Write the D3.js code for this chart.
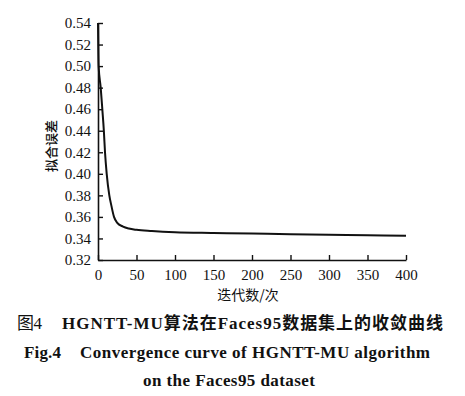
<!DOCTYPE html>
<html>
<head>
<meta charset="utf-8">
<script src="https://cdn.jsdelivr.net/npm/d3@7/dist/d3.min.js"></script>
<style>
  body { margin: 0; background: #fff; }
  text { fill: #111; }
</style>
</head>
<body>
<svg id="chart" width="465" height="396"></svg>
<script>
// iterations and fitting error
const iterations = [0, 0.8, 3.5, 5.6, 7.6, 9.1, 11.3, 14.7, 17.5, 20.8, 25, 32.5, 40, 50, 70, 100, 150, 200, 250, 300, 350, 400];
const errors = [0.54, 0.50, 0.48, 0.46, 0.44, 0.42, 0.40, 0.38, 0.37, 0.36, 0.3545, 0.351, 0.3492, 0.348, 0.3469, 0.3458, 0.3451, 0.3445, 0.344, 0.3435, 0.343, 0.3426];
const xTicks = [0, 50, 100, 150, 200, 250, 300, 350, 400];
const yTicks = [0.32, 0.34, 0.36, 0.38, 0.40, 0.42, 0.44, 0.46, 0.48, 0.50, 0.52, 0.54];

const serif = '"Liberation Serif", "Times New Roman", serif';
const cjk = '"Noto Sans CJK SC", sans-serif';
const mixed = '"Liberation Serif", "Noto Sans CJK SC", serif';

const svg = d3.select('#chart');
const x = d3.scaleLinear().domain([0, 400]).range([98, 406]);
const y = d3.scaleLinear().domain([0.32, 0.54]).range([260, 23]);

// axes, ticks pointing inward
const xAxis = svg.append('g')
  .attr('transform', `translate(0,${y(0.32)})`)
  .call(d3.axisBottom(x).tickValues(xTicks).tickSizeInner(-5).tickSizeOuter(0).tickPadding(9));
const yAxis = svg.append('g')
  .attr('transform', `translate(${x(0)},0)`)
  .call(d3.axisLeft(y).tickValues(yTicks).tickFormat(d3.format('.2f')).tickSizeInner(-5).tickSizeOuter(0).tickPadding(7));

[xAxis, yAxis].forEach((ax) => {
  ax.attr('font-family', null).attr('font-size', null);
  ax.select('.domain').attr('stroke', '#111').attr('stroke-width', 1.6);
  ax.selectAll('.tick line').attr('stroke', '#111').attr('stroke-width', 1.4);
  ax.selectAll('.tick text')
    .style('font-family', serif)
    .style('font-size', '15px')
    .style('fill', '#111');
});

const line = d3.line()
  .x((d, i) => x(iterations[i]))
  .y((d) => y(d))
  .curve(d3.curveMonotoneX);

svg.append('path')
  .datum(errors)
  .attr('d', line)
  .attr('fill', 'none')
  .attr('stroke', '#111')
  .attr('stroke-width', 2);

svg.append('text')
  .attr('x', 248)
  .attr('y', 300)
  .attr('text-anchor', 'middle')
  .style('font-family', cjk)
  .style('font-size', '14px')
  .text('迭代数/次');

svg.append('text')
  .attr('transform', 'translate(56,146) rotate(-90)')
  .attr('text-anchor', 'middle')
  .style('font-family', cjk)
  .style('font-size', '13px')
  .style('font-weight', 500)
  .text('拟合误差');

// caption, each piece stretched to the width it has in the figure
const captionPieces = [
  { text: '图4', x: 17, y: 329, w: 25, font: mixed, weight: 'normal' },
  { text: 'HGNTT-MU算法在Faces95数据集上的收敛曲线', x: 62, y: 329, w: 381, font: mixed, weight: 'bold' },
  { text: 'Fig.4', x: 24, y: 358, w: 37, font: serif, weight: 'bold' },
  { text: 'Convergence curve of HGNTT-MU algorithm', x: 80, y: 358, w: 350, font: serif, weight: 'bold' },
  { text: 'on the Faces95 dataset', x: 143, y: 386, w: 172, font: serif, weight: 'bold' },
];

svg.selectAll('.caption')
  .data(captionPieces)
  .enter()
  .append('text')
  .classed('caption', true)
  .attr('x', (d) => d.x)
  .attr('y', (d) => d.y)
  .attr('textLength', (d) => d.w)
  .attr('lengthAdjust', 'spacing')
  .style('font-family', (d) => d.font)
  .style('font-weight', (d) => d.weight)
  .style('font-size', '17px')
  .text((d) => d.text);
</script>
</body>
</html>
